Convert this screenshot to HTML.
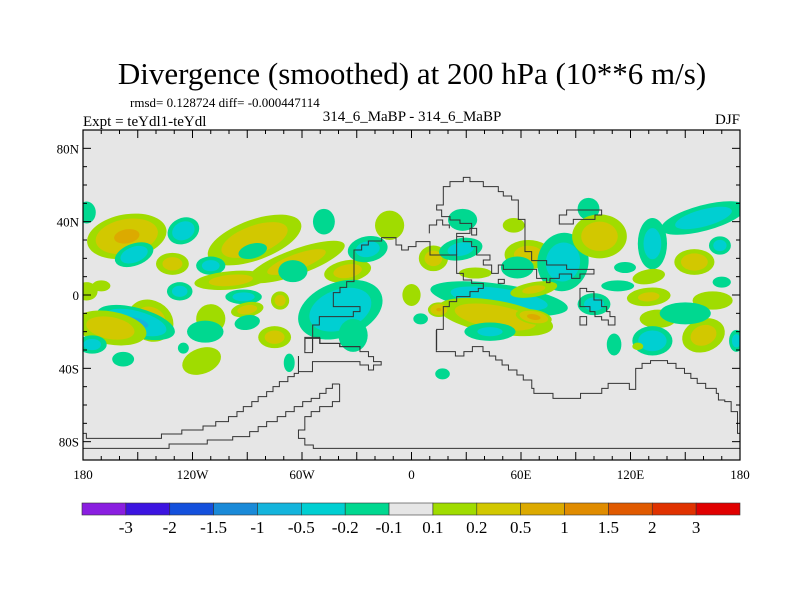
<!DOCTYPE html>
<html><head><meta charset="utf-8">
<style>
body{margin:0;background:#fff;}
svg{display:block;font-family:"Liberation Serif",serif;}
path{vector-effect:non-scaling-stroke;}
</style></head>
<body>
<svg id="chart" width="800" height="600" viewBox="0 0 800 600">
<rect width="800" height="600" fill="#fff"/>
<text x="412" y="84" font-size="31" text-anchor="middle">Divergence (smoothed) at 200 hPa (10**6 m/s)</text>
<text x="130" y="107" font-size="13">rmsd= 0.128724 diff= -0.000447114</text>
<text x="83" y="126" font-size="15">Expt = teYdl1-teYdl</text>
<text x="412" y="121" font-size="15" text-anchor="middle">314_6_MaBP - 314_6_MaBP</text>
<text x="740" y="124" font-size="15" text-anchor="end">DJF</text>
<defs><clipPath id="pc"><rect x="83" y="130" width="657" height="330"/></clipPath></defs>
<rect x="83" y="130" width="657" height="330" fill="#e6e6e6"/>
<g id="blobs" clip-path="url(#pc)"></g>
<g clip-path="url(#pc)" fill="none" stroke="#333" stroke-width="1">
<path transform="translate(290,170) scale(0.3333)" d="M68,540 V465 H88 V440 H190 V425 H210 V410 H130 V368 H150 V352 H170 V335 H192 V240 H215 V225 H235 V213 H275 V203 H318 V225 H335 V240 H355 V230 H378 V215 H420 V255 H500 V310 H520 V330 H545 V340 H580 V355 H565 V365 H540 V380 H500 V395 H478 V410 H460 V478 H440 V540"/>
<path transform="translate(290,170) scale(0.3333)" d="M45,540 V505 H90 V520 H150 V530 H210 V540"/>
<path transform="translate(290,170) scale(0.3333)" d="M500,255 V190 H540 V175 H560 V195 H545 V160 H510 V150 H480 V140 H455 V120 H440 V105 H460 V50 H480 V35 H520 V22 H540 V35 H580 V50 H625 V65 H640 V78 H665 V90 H685 V148 H705 V245 H725 V272 H770 V285 H830 V298 H912 V312 H870 V325 H845 V312 H808 V325 H780 V338 H770 V325 H740 V298 H640 V285 H625 V310 H605 V285 H580 V270 H600 V255 H560 V230 H545 V215 H520 V200 H500"/>
<path transform="translate(290,170) scale(0.3333)" d="M418,190 V165 H440 V150 H458 V165 H478 V175"/>
<path transform="translate(290,170) scale(0.3333)" d="M808,162 V135 H830 V120 H935 V135 H915 V148 H850 V162 Z"/>
<path transform="translate(290,170) scale(0.3333)" d="M870,465 V440 H890 V465 Z M870,355 H890 V365 H912 V390 H935 V410 H950 V425 H960 V440 H975 V465 H955 V450 H935 V440 H915 V425 H900 V410 H870 Z M625,328 H643 V340 H625 Z"/>
<path transform="translate(80,330) scale(0.4242,0.3333)" d="M515,78 V125 H548 V95 H660 V105 H680 V120 H692 V105 H710 V95 H692 V80 H680 V65 H660 V50 H612 V40 H565 V22 H530 V68 H548 V22"/>
<path transform="translate(80,330) scale(0.4242,0.3333)" d="M515,78 V130 H505 V140 H490 V155 H470 V170 H455 V185 H440 V200 H420 V215 H405 V230 H385 V245 H370 V260 H350 V275 H320 V288 H290 V300 H240 V312 H192 V325 H15 V310 H5"/>
<path transform="translate(80,330) scale(0.4242,0.3333)" d="M612,162 H595 V175 H580 V190 H565 V205 H545 V215 H525 V230 H505 V245 H485 V260 H465 V275 H440 V290 H420 V305 H400 V320 H360 V330 H300 V342 H210 V355 H5"/>
<path transform="translate(80,330) scale(0.4242,0.3333)" d="M612,162 V215 H595 V230 H565 V245 H545 V260 H530 V300 H515 V325 H530 V345 H550 V355 H1570"/>
<path transform="translate(80,330) scale(0.4242,0.3333)" d="M840,0 V65 H885 V78 H905 V65 H925 V50 H950 V65 H965 V78 H980 V90 H995 V105 H1010 V120 H1030 V135 H1045 V150 H1065 V175 H1070 V190 H1115 V205 H1180 V190 H1230 V175 H1245 V160 H1295 V178 H1310 V115 H1325 V100 H1345 V92 H1385 V100 H1405 V115 H1425 V130 H1440 V145 H1455 V160 H1475 V175 H1500 V190 H1505 V210 H1520 V215 H1535 V245 H1550 V310 H1570"/>
</g>
<rect x="83" y="130" width="657" height="330" fill="none" stroke="#000" stroke-width="1.2"/>
<g id="axes"></g>
<g id="cbar"></g>
</svg>
<script>
const blobLon = [-156,-152,-125,-86,-48,-12,-87,-63,-131,-110,-170,-99,-127,-65,-35,-39,-92,-72,-110,-90,-143,-151,-113,-90,-75,-165,-175,-115,-158,-125,-67,-32,-178,-178,-24,0,28,56,64,97,83,103,160,132,169,155,117,130,170,113,130,165,48,46,67,15,67,100,43,111,135,132,160,150,17,124,12,27,35,58,178,5];
const blobLat = [32,22,35,30,40,38,24,18,17,16,5,8,2,13,13,-8,-1,-3,-13,-8,-14,-15,-20,-15,-23,-18,-27,-36,-35,-29,-37,-22,45,2,25,0,41,38,22,47,18,32,42,28,27,18,15,10,7,5,-1,-3,-2,-12,-12,-8,3,-5,-20,-27,-13,-25,-22,-10,-43,-28,20,25,12,15,-25,-13];
const blobVal = [0.6,-0.4,-0.4,0.4,-0.15,0.15,-0.15,0.3,0.3,-0.3,0.15,0.3,-0.3,-0.2,0.3,-0.45,-0.3,0.3,0.15,0.3,0.35,-0.6,-0.2,-0.15,0.3,0.35,-0.3,0.15,-0.15,-0.15,-0.15,-0.2,-0.15,0.15,-0.3,0.15,-0.15,0.15,0.3,-0.15,-0.35,0.35,-0.35,-0.3,-0.3,0.35,-0.15,0.15,-0.15,-0.15,0.25,0.2,-0.4,0.4,0.65,0.55,0.25,-0.3,-0.25,-0.15,0.15,-0.4,0.3,-0.15,-0.15,0.12,0.3,-0.3,0.15,-0.2,-0.3,-0.15];
const blobRx = [22,11,9,27,6,8,8,28,9,8,5,20,7,8,13,24,10,5,8,9,13,22,10,7,9,20,8,11,6,3,3,8,5,6,11,5,8,6,13,6,14,15,24,8,6,11,6,9,5,9,12,11,38,32,10,6,13,9,14,4,10,11,12,14,4,3,8,12,9,9,4,4];
const blobRy = [12,6,7,11,7,8,4,7,6,5,3,5,5,6,6,15,4,5,8,4,11,8,6,4,6,9,5,7,4,3,5,9,6,5,7,6,6,4,8,6,16,12,7,14,5,7,3,4,3,3,5,5,8,9,4,4,4,6,5,6,5,8,9,6,3,2,7,6,3,6,6,3];
const blobRot = [-10,-20,-25,-20,0,0,-15,-20,0,0,0,-5,0,0,-10,-20,0,0,20,-10,30,15,0,-10,0,10,0,-20,0,0,0,0,0,0,-10,0,0,0,0,0,10,0,-15,0,0,0,0,-10,0,0,-5,0,8,10,10,0,-10,0,0,0,0,0,-20,0,0,0,0,-10,0,0,0,0];
const levels = [-3,-2,-1.5,-1,-0.5,-0.2,-0.1,0.1,0.2,0.5,1,1.5,2,3];
const levelLabels = ["-3","-2","-1.5","-1","-0.5","-0.2","-0.1","0.1","0.2","0.5","1","1.5","2","3"];
const colors = ["#8a1ee0","#3c14e0","#1450dc","#1a8ad8","#14b4dc","#00cfd2","#00d890","#e6e6e6","#a0dc00","#d2c800","#dcaa00","#e08c00","#e05a00","#e03200","#e00000"];
const latTicks = [80,40,0,-40,-80];
const latTickLabels = ["80N","40N","0","40S","80S"];
const lonTicks = [-180,-120,-60,0,60,120,180];
const lonTickLabels = ["180","120W","60W","0","60E","120E","180"];

const NS="http://www.w3.org/2000/svg";
const X0=83,W=657,Y0=130,H=330;
function xs(lon){return X0+(lon+180)/360*W;}
function ys(lat){return Y0+(90-lat)/180*H;}
function el(tag,attrs,parent){const e=document.createElementNS(NS,tag);for(const k in attrs)e.setAttribute(k,attrs[k]);parent.appendChild(e);return e;}
function colorFor(v){let i=0;while(i<levels.length&&v>=levels[i])i++;return colors[i];}

const bg=document.getElementById('blobs');
for(let i=0;i<blobLon.length;i++){
  const v=blobVal[i],a=Math.abs(v),sg=Math.sign(v);
  const th=levels.filter(t=>t*sg>0&&Math.abs(t)>=0.1&&Math.abs(t)<a).map(Math.abs).sort((p,q)=>p-q);
  const cx=xs(blobLon[i]),cy=ys(blobLat[i]);
  const rx=blobRx[i]*W/360,ry=blobRy[i]*H/180;
  const g=el('g',{transform:`rotate(${blobRot[i]} ${cx} ${cy})`},bg);
  
  
  th.forEach(t=>{
    const s=Math.sqrt(Math.log(a/t)/Math.log(a/0.1));
    const mid=sg*(t+0.0001);
    const e=el('ellipse',{cx:cx,cy:cy,rx:rx*s,ry:ry*s,fill:colorFor(mid)},g);
    
    
  });
}

const ax=document.getElementById('axes');
for(let lat=-90;lat<=90;lat+=10){
  const major=latTicks.includes(lat);
  el('line',{x1:X0,x2:X0+(major?8:4),y1:ys(lat),y2:ys(lat),stroke:'#000'},ax);
  el('line',{x1:X0+W,x2:X0+W-(major?8:4),y1:ys(lat),y2:ys(lat),stroke:'#000'},ax);
}
for(let lon=-180;lon<=180;lon+=10){
  const major=lon%30===0;
  el('line',{x1:xs(lon),x2:xs(lon),y1:Y0+H,y2:Y0+H-(major?8:4),stroke:'#000'},ax);
  el('line',{x1:xs(lon),x2:xs(lon),y1:Y0,y2:Y0+(major?8:4),stroke:'#000'},ax);
}
latTicks.forEach((lat,i)=>{
  const t=el('text',{x:X0-4,y:ys(lat)+5,'font-size':13,'text-anchor':'end'},ax);
  t.textContent=latTickLabels[i];
  
  
});
lonTicks.forEach((lon,i)=>{
  const t=el('text',{x:xs(lon),y:Y0+H+19,'font-size':13,'text-anchor':'middle'},ax);
  t.textContent=lonTickLabels[i];
  
  
});

const cb=document.getElementById('cbar');
const cbX=82,cbW=658,cbY=503,cbH=12,bw=cbW/colors.length;
colors.forEach((c,i)=>{
  const r=el('rect',{x:cbX+i*bw,y:cbY,width:bw,height:cbH,fill:c,stroke:'#333','stroke-width':0.6},cb);
  
  
});
levelLabels.forEach((l,i)=>{
  const t=el('text',{x:cbX+(i+1)*bw,y:cbY+cbH+18,'font-size':17,'text-anchor':'middle'},cb);
  t.textContent=l;
  
  
});
</script>
</body></html>
